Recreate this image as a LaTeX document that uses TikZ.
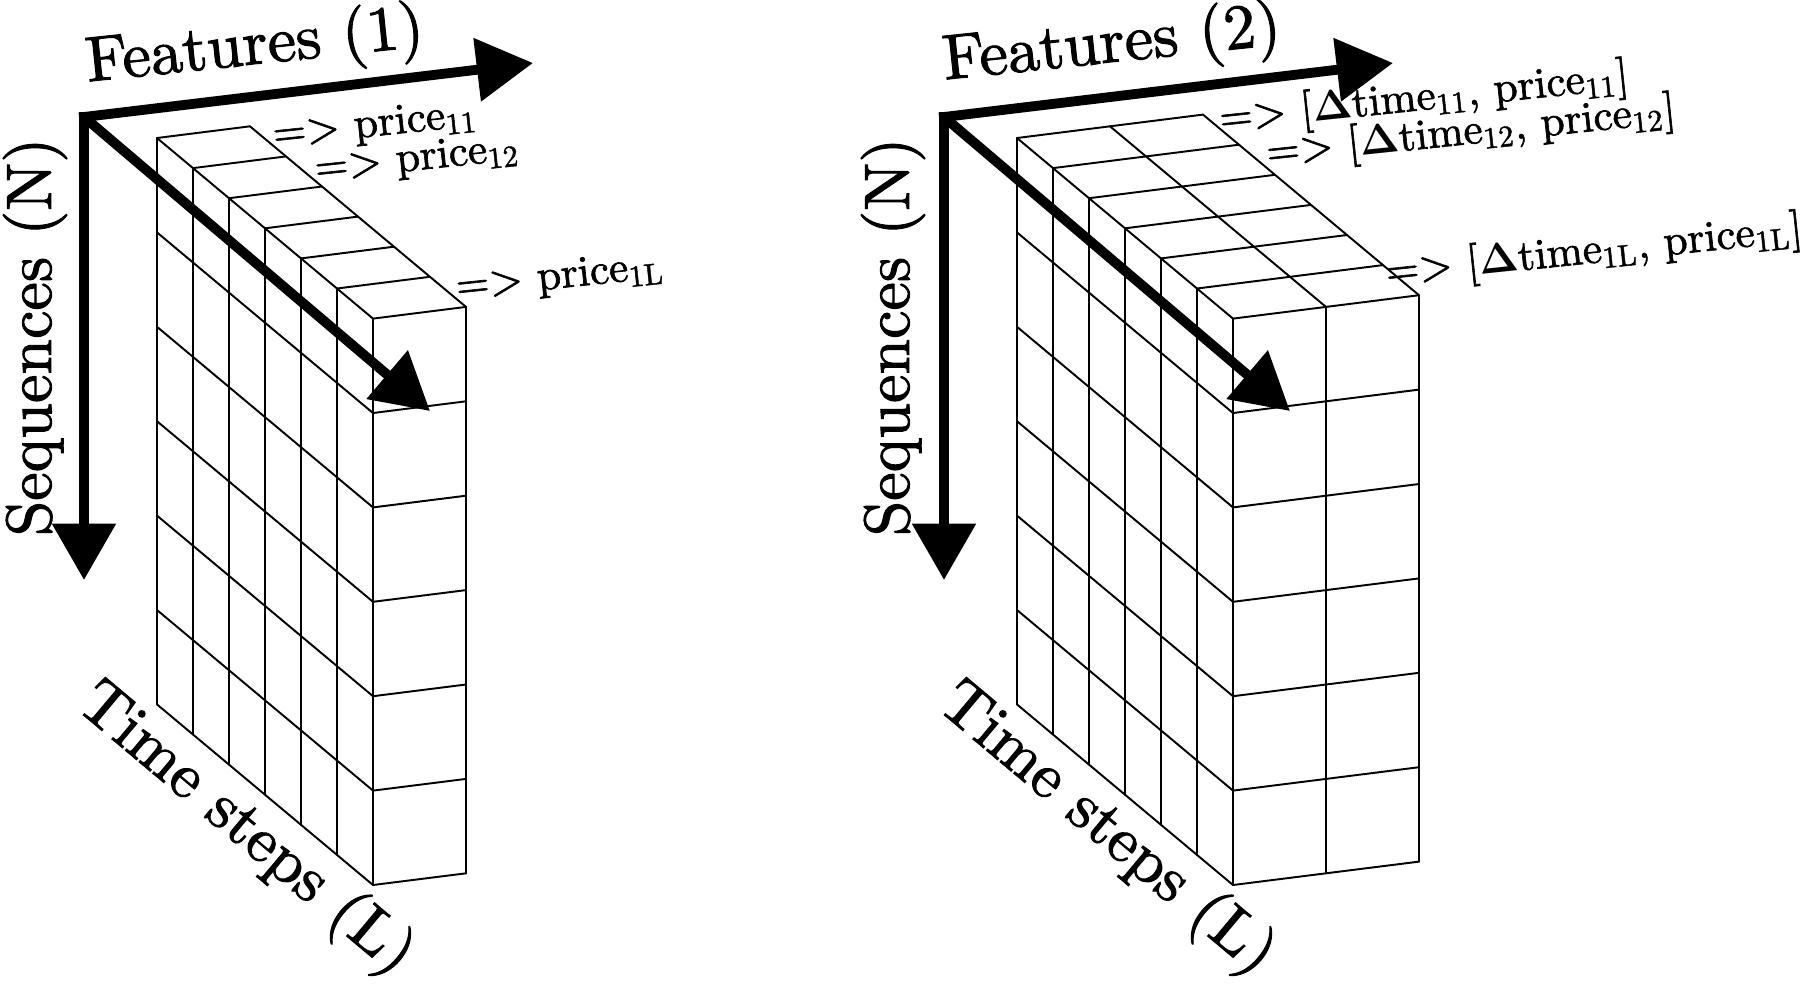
\documentclass[tikz,border=0pt]{standalone}
\usepackage[no-math]{fontspec}
\setmainfont{lmroman10-regular.otf}[FakeBold=1.5]
\usetikzlibrary{arrows.meta}
\tikzset{
  cell/.style={line width=0.55pt, line cap=round, line join=round},
  axisline/.style={line width=2.8pt, -{Triangle[length=16pt,width=17.5pt]}},
  big/.style={font=\fontsize{18.2}{21}\selectfont, inner sep=0pt},
  lab/.style={font=\fontsize{12.3}{14}\selectfont, inner sep=0pt, rotate=6},
}
\newcommand\sbs[1]{\textsubscript{#1}}
\newcommand\dlt{$\mathbf{\Delta}$}
\newcommand\mycube[2]{%
  \begin{scope}[shift={(#1,0)}]
    \foreach \j in {0,...,#2} \draw[cell] ({157+93*\j},{138-11.7*\j}) -- ++(216,180.6);
    \foreach \k in {0,...,6} \draw[cell] ({157+36*\k},{138+30.1*\k}) -- ++({93*#2},{-11.7*#2});
    \foreach \r in {1,...,6} \draw[cell] (157,{138+94.4*\r}) -- ++(216,180.6);
    \foreach \k in {0,...,6} \draw[cell] ({157+36*\k},{138+30.1*\k}) -- ++(0,566.4);
    \foreach \r in {1,...,6} \draw[cell] (373,{318.6+94.4*\r}) -- ++({93*#2},{-11.7*#2});
    \foreach \j in {1,...,#2} \draw[cell] ({373+93*\j},{318.6-11.7*\j}) -- ++(0,566.4);
  \end{scope}}
\begin{document}
\begin{tikzpicture}[x=0.01cm,y=-0.01cm]
\useasboundingbox (0,0) rectangle (1802,990);
% cubes
\mycube{0}{1}
\mycube{860}{2}
% left axes
\coordinate (c1) at (84,117);
\coordinate (f1) at (533,63);
\coordinate (s1) at (84,580);
\coordinate (t1) at (430,411);
\draw[axisline, line cap=rect] (c1) -- (f1);
\draw[axisline, line cap=rect] (c1) -- (s1);
\draw[axisline] (c1) -- (t1);
% right axes
\coordinate (c2) at (944,117);
\coordinate (f2) at (1393,63);
\coordinate (s2) at (944,580);
\coordinate (t2) at (1290,411);
\draw[axisline, line cap=rect] (c2) -- (f2);
\draw[axisline, line cap=rect] (c2) -- (s2);
\draw[axisline] (c2) -- (t2);
% axis labels
\node[big, rotate=6] (feat1) at (255,48) {Features (1)};
\node[big, rotate=90] (seq1) at (35,337) {Sequences (N)};
\node[big, rotate=-40] (time1) at (245,830) {Time steps (L)};
\node[big, rotate=6] (feat2) at (1112,46) {Features (2)};
\node[big, rotate=90] (seq2) at (893,337) {Sequences (N)};
\node[big, rotate=-40] (time2) at (1106,830) {Time steps (L)};
% feature labels
\node[lab] (p11) at (375,126) {=> price\sbs{11}};
\node[lab] (p12) at (417,160) {=> price\sbs{12}};
\node[lab] (p1L) at (560,278) {=> price\sbs{1L}};
\node[lab] (q11) at (1424,99) {=> [\dlt time\sbs{11}, price\sbs{11}]};
\node[lab] (q12) at (1471,133) {=> [\dlt time\sbs{12}, price\sbs{12}]};
\node[lab] (q1L) at (1594,252) {=> [\dlt time\sbs{1L}, price\sbs{1L}]};
\end{tikzpicture}
\end{document}
